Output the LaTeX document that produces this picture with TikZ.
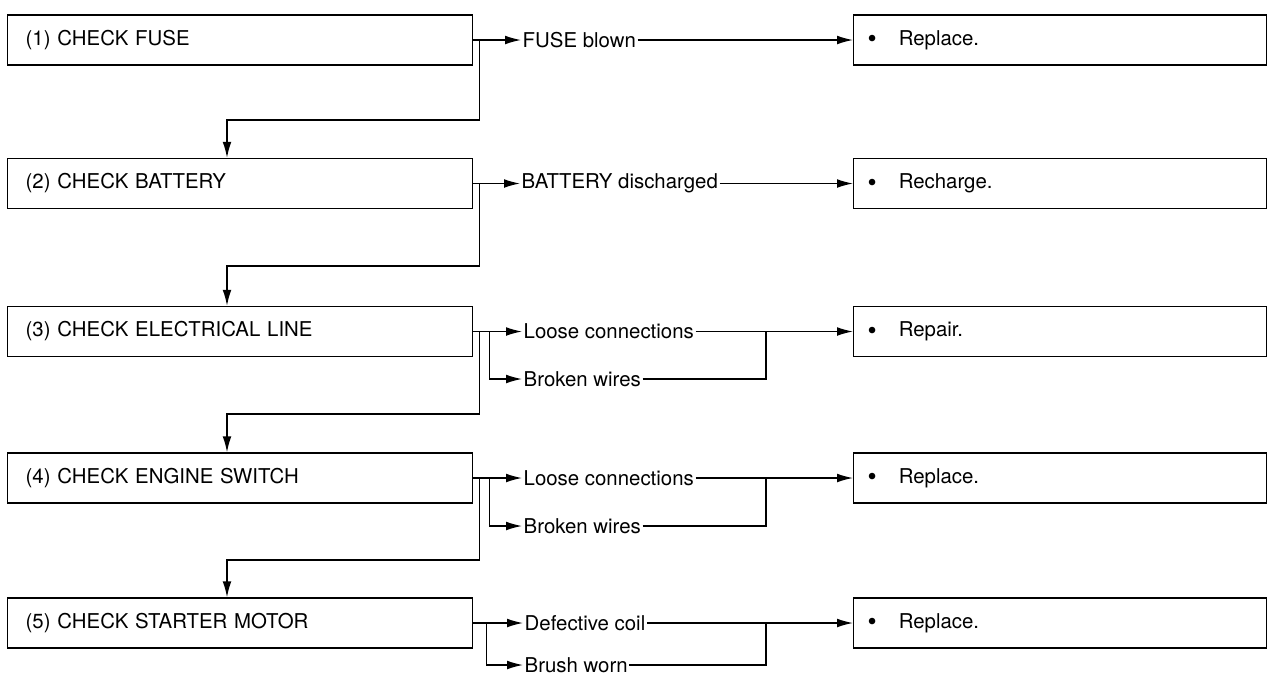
\documentclass[tikz,border=0pt]{standalone}
\usepackage{fontspec}
\setmainfont{TeX Gyre Heros}
\usetikzlibrary{arrows.meta}

\newcommand{\bigdot}{\raisebox{-1.2pt}{\fontsize{13}{12}\selectfont\textbullet}}

\tikzset{
  arr/.style={-{Latex[length=8pt,width=4.4pt]}},
  checkbox/.style={draw, anchor=west, text width=214.5pt, minimum height=25pt,
    inner xsep=9pt, align=left, font=\fontsize{10.2}{12}\selectfont},
  fixbox/.style={draw, anchor=west, text width=192.5pt, minimum height=25pt,
    inner xsep=7pt, align=left, font=\fontsize{10.2}{12}\selectfont},
  cause/.style={anchor=west, inner xsep=0.5pt, inner ysep=1pt,
    font=\fontsize{10.2}{12}\selectfont},
}

\begin{document}
\begin{tikzpicture}[x=0.5pt, y=-0.5pt, line width=0.7pt]
  \useasboundingbox (0,0) rectangle (1276,676);

  \node[checkbox] (c1) at (7,40)    {(1) CHECK FUSE};
  \node[checkbox] (c2) at (7,183.5) {(2) CHECK BATTERY};
  \node[checkbox] (c3) at (7,331.5) {(3) CHECK ELECTRICAL LINE};
  \node[checkbox] (c4) at (7,478)   {(4) CHECK ENGINE SWITCH};
  \node[checkbox] (c5) at (7,623)   {(5) CHECK STARTER MOTOR};

  \node[fixbox] (r1) at (853,40)    {\bigdot\hspace{11pt}Replace.};
  \node[fixbox] (r2) at (853,183.5) {\bigdot\hspace{11pt}Recharge.};
  \node[fixbox] (r3) at (853,331.5) {\bigdot\hspace{11pt}Repair.};
  \node[fixbox] (r4) at (853,478)   {\bigdot\hspace{11pt}Replace.};
  \node[fixbox] (r5) at (853,623)   {\bigdot\hspace{11pt}Replace.};

  \node[cause] (f1) at (521,40)    {FUSE blown};
  \node[cause] (b2) at (520,183.5) {BATTERY discharged};
  \node[cause] (l3) at (522,331.5) {Loose connections};
  \node[cause] (w3) at (522,379)   {Broken wires};
  \node[cause] (l4) at (522,478)   {Loose connections};
  \node[cause] (w4) at (522,526)   {Broken wires};
  \node[cause] (d5) at (523,623)   {Defective coil};
  \node[cause] (w5) at (523,665)   {Brush worn};

  \coordinate (j1) at (227,120);
  \coordinate (j2) at (227,266);
  \coordinate (j3) at (227,414);
  \coordinate (j4) at (227,560);
  \coordinate (m) at (766,0);

  % step to step
  \draw[arr] ([xshift=3pt]c1.east) |- (j1) -- (j1 |- c2.north);
  \draw[arr] ([xshift=3pt]c2.east) |- (j2) -- (j2 |- c3.north);
  \draw[arr] ([xshift=3pt]c3.east) |- (j3) -- (j3 |- c4.north);
  \draw[arr] ([xshift=3pt]c4.east) |- (j4) -- (j4 |- c5.north);

  % causes
  \draw[arr] (c1.east) -- (f1.west);
  \draw[arr] (f1.east) -- (r1.west);
  \draw[arr] (c2.east) -- (b2.west);
  \draw[arr] (b2.east) -- (r2.west);

  \draw[arr] (c3.east) -- (l3.west);
  \draw[arr] ([xshift=8pt]c3.east) |- (w3.west);
  \draw (w3.east) -| (l3.east -| m);
  \draw[arr] (l3.east) -- (r3.west);

  \draw[arr] (c4.east) -- (l4.west);
  \draw[arr] ([xshift=8pt]c4.east) |- (w4.west);
  \draw (w4.east) -| (l4.east -| m);
  \draw[arr] (l4.east) -- (r4.west);

  \draw[arr] (c5.east) -- (d5.west);
  \draw[arr] ([xshift=6.5pt]c5.east) |- (w5.west);
  \draw (w5.east) -| (d5.east -| m);
  \draw[arr] (d5.east) -- (r5.west);
\end{tikzpicture}
\end{document}
